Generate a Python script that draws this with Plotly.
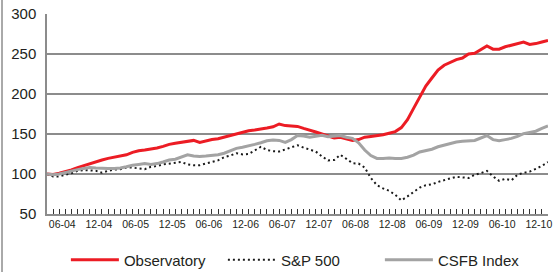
import plotly.graph_objects as go

months = list(range(83))

observatory = [100, 99.5, 101, 103, 105, 108, 110.5, 113, 115, 117.5,
               119.5, 121, 122, 124, 127, 129, 130, 131, 132.5, 134.5,
               137, 138.5, 139.5, 141, 142, 139.5, 141.5, 143, 144, 146,
               148, 150, 152, 154, 155, 156, 157.5, 159, 162.5, 160.5,
               160, 159.5, 157, 155, 152.5, 150, 147, 145, 146, 144,
               142, 143, 146, 147, 148, 149, 151, 153, 158, 168,
               182, 197, 210, 220, 230, 236, 240, 243, 245, 250,
               251, 256, 260, 256, 256, 259, 261, 263, 265, 262,
               263, 265, 267]

sp500 = [100, 97, 97, 99, 101, 104, 105, 104.5, 104, 101.5,
         104, 105.5, 106, 108, 108, 107, 106, 109, 110, 112,
         113, 114, 115, 112, 111, 111, 113, 115, 117, 121,
         123, 126, 124.5, 125, 130, 134, 130, 128.5, 128, 131,
         133, 136, 133, 130, 128, 122, 117, 117.5, 124, 119,
         113.5, 113, 108, 95, 86, 82, 79, 74, 67, 72,
         77, 83, 86, 87, 90, 92.5, 94.5, 96.5, 96, 95,
         99, 101, 104, 97, 91.5, 94, 92, 99, 101.5, 103,
         106.5, 110, 115]

csfb = [100, 99, 100, 102, 104, 105.5, 107, 108, 107.5, 107,
        107, 107, 107.5, 109, 111, 112, 113, 112, 113, 115,
        117.5, 118.5, 121, 124, 122.5, 122, 122.5, 123.5, 124, 126,
        129, 132, 133.5, 135, 137, 139, 141.5, 142.5, 142, 139.5,
        143, 148, 147.5, 146, 147, 148.5, 146.5, 147.5, 148, 146,
        144.5, 139, 130, 123, 119.5, 119.5, 120, 119.5, 119.5, 121,
        123.5, 127.5, 129, 131, 134, 136, 138, 140, 141, 141.5,
        142, 145, 148, 143, 141.5, 143, 144.5, 147, 150.5, 152,
        153.5, 157, 160]

tick_labels = ["06-04", "12-04", "06-05", "12-05", "06-06", "12-06", "06-07",
               "12-07", "06-08", "12-08", "06-09", "12-09", "06-10", "12-10"]
tick_positions = [2.5 + 6 * k for k in range(len(tick_labels))]

y_ticks = [50, 100, 150, 200, 250, 300]

FONT = "Liberation Sans, Arial, Helvetica, sans-serif"
TXT = "#231f20"
GRID = "#8c8c8c"

fig = go.Figure()
fig.add_trace(go.Scatter(x=months, y=observatory, name="Observatory", mode="lines",
                         line=dict(color="#ec1c24", width=3)))
fig.add_trace(go.Scatter(x=months, y=sp500, name="S&P 500", mode="lines",
                         line=dict(color="#1a1a1a", width=2, dash="2px,3px")))
fig.add_trace(go.Scatter(x=months, y=csfb, name="CSFB Index", mode="lines",
                         line=dict(color="#a3a3a3", width=3)))

fig.update_layout(
    width=553, height=272,
    margin=dict(l=47, r=5, t=14, b=58),
    paper_bgcolor="white", plot_bgcolor="white",
    font=dict(family=FONT, color=TXT),
    showlegend=True,
    legend=dict(orientation="h", xref="container", yref="container",
                x=0.545, xanchor="center", y=1 - 260 / 272, yanchor="middle",
                font=dict(size=15, color=TXT), itemwidth=48, entrywidth=94,
                traceorder="normal"),
    xaxis=dict(range=[0, 82], tickmode="array", tickvals=tick_positions, ticktext=tick_labels,
               showgrid=False, zeroline=False, showline=True, linecolor=GRID, linewidth=1.5,
               ticks="inside", ticklen=0, tickfont=dict(size=10.5, color=TXT), automargin=False,
               minor=dict(tickmode="array", tickvals=months, ticks="inside", ticklen=5,
                          tickcolor="#333333", tickwidth=1, showgrid=False)),
    yaxis=dict(range=[50, 300], tickmode="array", tickvals=y_ticks,
               showgrid=True, gridcolor=GRID, gridwidth=1.5, zeroline=False,
               showline=True, linecolor=GRID, linewidth=1.5, ticks="", automargin=False,
               tickfont=dict(size=15, color=TXT), ticklabelstandoff=6),
    shapes=[dict(type="line", xref="paper", yref="paper", x0=-45 / 501, x1=-45 / 501,
                 y0=-58 / 200, y1=1 + 14 / 200, line=dict(color="#555555", width=1))],
)

fig.write_html("out.html", config={"displayModeBar": False},
               post_script="document.body.style.margin='0';document.body.style.padding='0';")
